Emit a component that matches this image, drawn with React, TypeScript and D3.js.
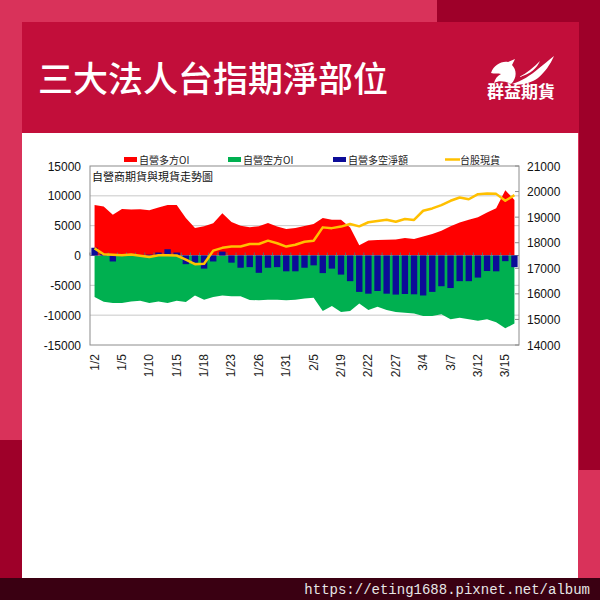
import React from "react";
import * as d3 from "d3";

const dates = [
  "1/2","1/3","1/4","1/5","1/8","1/9","1/10","1/11","1/12","1/15",
  "1/16","1/17","1/18","1/19","1/22","1/23","1/24","1/25","1/26","1/29",
  "1/30","1/31","2/1","2/2","2/5","2/15","2/16","2/19","2/20","2/21",
  "2/22","2/23","2/26","2/27","2/29","3/1","3/4","3/5","3/6","3/7",
  "3/8","3/11","3/12","3/13","3/14","3/15","3/18",
];
const longOI = [
  8450, 8200, 6850, 7800, 7700, 7750, 7600, 8050, 8450, 8450,
  6300, 4600, 4900, 5400, 7100, 5600, 5000, 4750, 4900, 5450,
  4850, 4450, 4600, 4950, 5300, 6300, 6000, 6000, 4700, 1700,
  2500, 2600, 2650, 2700, 2950, 2750, 3200, 3600, 4150, 4900,
  5550, 6000, 6400, 7200, 7900, 10950, 9300,
];
const shortOI = [
  -6950, -7750, -7950, -7950, -7700, -7600, -7950, -7700, -7950, -7600,
  -7800, -6700, -7400, -6950, -6700, -6850, -6850, -7450, -7500, -7400,
  -7400, -7500, -7400, -7200, -7100, -9300, -8450, -9450, -9300, -8050,
  -9150, -8600, -9150, -9450, -9600, -9700, -10150, -10150, -9850, -10700,
  -10450, -10700, -10950, -10700, -11200, -12200, -11400,
];
const netOI = [
  1300, 300, -1000, -100, 150, 100, 150, 500, 1050, 500,
  -1450, -1200, -2200, -1000, 650, -1200, -2050, -1950, -2900, -2050,
  -1950, -2650, -2650, -2050, -1650, -2950, -2200, -3200, -4300, -6100,
  -6400, -5950, -6400, -6550, -6450, -6500, -6700, -6100, -5150, -5450,
  -4300, -4300, -3700, -2600, -2650, -950, -1950,
];
const taiex = [
  17780, 17550, 17530, 17510, 17540, 17490, 17440, 17510, 17510, 17500,
  17340, 17160, 17180, 17690, 17800, 17850, 17850, 17950, 17950, 18080,
  17980, 17850, 17920, 18040, 18080, 18600, 18570, 18630, 18730, 18640,
  18800, 18850, 18900, 18820, 18930, 18890, 19250, 19340, 19470, 19640,
  19770, 19700, 19900, 19920, 19910, 19640, 19860,
];
const leftTicks = [15000, 10000, 5000, 0, -5000, -10000, -15000];
const rightTicks = [21000, 20000, 19000, 18000, 17000, 16000, 15000, 14000];
const gridValues = [10000, 5000, -5000, -10000];
const legendItems = [
  { label: "自營多方OI", color: "#ff0000", kind: "box", x: 124 },
  { label: "自營空方OI", color: "#00b050", kind: "box", x: 228 },
  { label: "自營多空淨額", color: "#0c0c98", kind: "box", x: 333 },
  { label: "台股現貨", color: "#ffc000", kind: "line", x: 445 },
];
const titleText = "三大法人台指期淨部位";
const subtitleText = "自營商期貨與現貨走勢圖";
const brandText = "群益期貨";
const urlText = "https://eting1688.pixnet.net/album";

const PL = 90, PR = 519, PT = 166, PB = 345;

export default function App() {
  const x = d3.scalePoint<string>().domain(dates).range([PL, PR]).padding(0.5);
  const step = x.step();
  const yL = d3.scaleLinear().domain([-15000, 15000]).range([PB, PT]);
  const yR = d3.scaleLinear().domain([14000, 21000]).range([PB, PT]);

  const redArea = d3.area<number>()
    .x((_, i) => x(dates[i])!)
    .y0(yL(0))
    .y1((d) => yL(d))(longOI) || "";
  const greenArea = d3.area<number>()
    .x((_, i) => x(dates[i])!)
    .y0(yL(0))
    .y1((d) => yL(d))(shortOI) || "";
  const priceLine = d3.line<number>()
    .x((_, i) => x(dates[i])!)
    .y((d) => yR(d))(taiex) || "";

  const barW = step * 0.7;
  const cjk = "'Noto Sans CJK TC', 'Noto Sans CJK SC', sans-serif";
  const latin = "'Liberation Sans', Arial, sans-serif";

  return (
    <svg width={600} height={600} style={{ position: "absolute", left: 0, top: 0 }}>
      {/* background */}
      <rect x={0} y={0} width={600} height={600} fill="#d9325a" />
      <rect x={437} y={0} width={163} height={22} fill="#9e0029" />
      <rect x={579} y={0} width={21} height={470} fill="#9e0029" />
      <rect x={0} y={440} width={22} height={140} fill="#9e0029" />
      <rect x={22} y={22} width={557} height={111} fill="#c20e3a" />
      <rect x={22} y={133} width={556} height={445} fill="#ffffff" />
      <rect x={0} y={578} width={600} height={22} fill="#3a0012" />

      {/* title */}
      <text x={38} y={92} fill="#ffffff" fontSize={35} fontWeight={500} fontFamily={cjk}>
        {titleText}
      </text>

      {/* logo */}
      <g fill="#ffffff">
        <path d="M491,73 C494,65 501,61 508,62 L515,59 L512,65 C517,70 517,78 511,84 C505,81 499,80 494,83 C495,79 497,76 501,74 C498,73 494,74 491,73 Z" />
        <path d="M512,84 C522,81 531,75 538,69 C544,64 549,60 554,56 C550,65 545,72 538,78 C531,83 521,86 512,84 Z" />
        <path d="M519,77 C527,73 534,67 540,61 C537,68 531,74 519,77 Z" />
      </g>
      <text x={521} y={98} textAnchor="middle" fill="#ffffff" fontSize={17} fontWeight={700} fontFamily={cjk}>
        {brandText}
      </text>

      {/* legend */}
      {legendItems.map((it) => (
        <g key={it.label}>
          {it.kind === "box" ? (
            <rect x={it.x} y={157} width={13} height={5} fill={it.color} />
          ) : (
            <line x1={it.x} x2={it.x + 15} y1={159.5} y2={159.5} stroke={it.color} strokeWidth={2.5} />
          )}
          <text x={it.x + (it.kind === "box" ? 15 : 15)} y={163.5} fontSize={10} fill="#222" fontFamily={cjk}>
            {it.label}
          </text>
        </g>
      ))}

      {/* gridlines */}
      {gridValues.map((v) => (
        <line key={v} x1={PL} x2={PR} y1={yL(v)} y2={yL(v)} stroke="#c8c8c8" strokeWidth={1} />
      ))}

      {/* areas */}
      <path d={greenArea} fill="#00b050" />
      <path d={redArea} fill="#ff0000" />

      {/* zero axis with ticks */}
      <line x1={PL} x2={PR} y1={yL(0)} y2={yL(0)} stroke="#888" strokeWidth={1} />
      {dates.map((d) => (
        <line key={"t" + d} x1={x(d)! - step / 2} x2={x(d)! - step / 2} y1={yL(0) - 3} y2={yL(0)} stroke="#666" strokeWidth={1} />
      ))}

      {/* net bars */}
      {netOI.map((v, i) => (
        <rect
          key={"b" + i}
          x={x(dates[i])! - barW / 2}
          y={Math.min(yL(0), yL(v))}
          width={barW}
          height={Math.abs(yL(v) - yL(0))}
          fill="#0c0c98"
        />
      ))}

      {/* price line */}
      <path d={priceLine} fill="none" stroke="#ffc000" strokeWidth={2.5} strokeLinejoin="round" />

      {/* frame */}
      <rect x={PL} y={PT} width={PR - PL} height={PB - PT} fill="none" stroke="#8c8c8c" strokeWidth={1} />
      {rightTicks.map((v) => (
        <line key={"rt" + v} x1={PR - 4} x2={PR} y1={yR(v)} y2={yR(v)} stroke="#8c8c8c" />
      ))}

      {/* subtitle */}
      <text x={92} y={181} fontSize={11} fill="#111" fontFamily={cjk}>
        {subtitleText}
      </text>

      {/* left axis labels */}
      {leftTicks.map((v) => (
        <text key={"l" + v} x={81} y={yL(v) + 4.5} textAnchor="end" fontSize={12} fill="#111" fontFamily={latin}>
          {v}
        </text>
      ))}
      {/* right axis labels */}
      {rightTicks.map((v) => (
        <text key={"r" + v} x={527} y={yR(v) + 4.5} textAnchor="start" fontSize={12} fill="#111" fontFamily={latin}>
          {v}
        </text>
      ))}
      {/* x labels */}
      {dates.map((d, i) =>
        i % 3 === 0 ? (
          <text
            key={"x" + d}
            transform={`translate(${x(d)! + 4},${354}) rotate(-90)`}
            textAnchor="end"
            fontSize={12}
            fill="#222"
            fontFamily={latin}
          >
            {d}
          </text>
        ) : null
      )}

      {/* url */}
      <text x={590} y={594} textAnchor="end" fontSize={14} fill="#e6e6e6" fontFamily="'Liberation Mono', 'DejaVu Sans Mono', monospace">
        {urlText}
      </text>
    </svg>
  );
}
